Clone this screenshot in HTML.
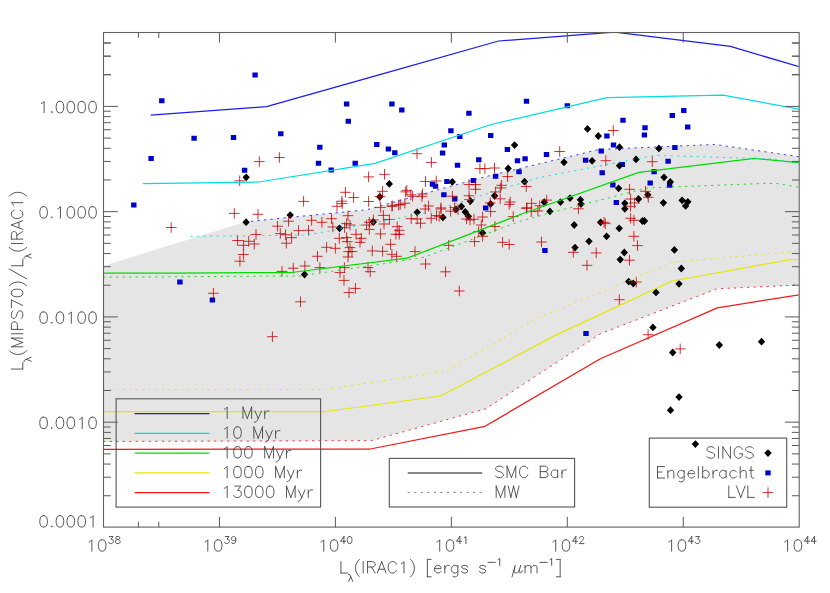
<!DOCTYPE html>
<html><head><meta charset="utf-8"><title>L(MIPS70)/L(IRAC1) vs L(IRAC1)</title>
<style>html,body{margin:0;padding:0;background:#fff;font-family:"Liberation Sans",sans-serif}svg{display:block}</style>
</head><body>
<svg width="830" height="593" viewBox="0 0 830 593">
<defs><clipPath id="fr"><rect x="104.00" y="33.10" width="694.70" height="493.40"/></clipPath></defs>
<rect width="830" height="593" fill="#fff"/>
<g clip-path="url(#fr)">
<polygon points="103.5,265.9 244.8,221.9 251.0,221.3 367.0,209.7 483.0,177.3 599.0,149.5 714.9,144.4 831.0,161.4 833.0,283.4 716.9,288.8 601.0,333.5 485.8,408.8 371.7,440.6 90.0,441.5" fill="#e5e5e5"/>
<path d="M252.4 72.6h5.4v5.0h-5.4zM159.1 98.2h5.4v5.0h-5.4zM191.4 135.8h5.4v5.0h-5.4zM230.8 135.0h5.4v5.0h-5.4zM278.1 131.2h5.4v5.0h-5.4zM148.4 156.1h5.4v5.0h-5.4zM241.9 167.8h5.4v5.0h-5.4zM343.9 101.6h5.4v5.0h-5.4zM345.6 118.7h5.4v5.0h-5.4zM389.2 101.6h5.4v5.0h-5.4zM399.1 107.4h5.4v5.0h-5.4zM466.2 110.7h5.4v5.0h-5.4zM317.1 144.7h5.4v5.0h-5.4zM315.8 160.8h5.4v5.0h-5.4zM328.5 167.4h5.4v5.0h-5.4zM352.5 160.8h5.4v5.0h-5.4zM374.1 142.1h5.4v5.0h-5.4zM385.7 146.5h5.4v5.0h-5.4zM392.1 150.2h5.4v5.0h-5.4zM448.2 128.2h5.4v5.0h-5.4zM457.1 134.1h5.4v5.0h-5.4zM441.6 142.6h5.4v5.0h-5.4zM439.9 150.6h5.4v5.0h-5.4zM488.0 133.0h5.4v5.0h-5.4zM476.1 157.3h5.4v5.0h-5.4zM454.8 162.7h5.4v5.0h-5.4zM523.8 98.7h5.4v5.0h-5.4zM564.6 103.3h5.4v5.0h-5.4zM620.3 117.7h5.4v5.0h-5.4zM642.3 125.2h5.4v5.0h-5.4zM641.7 132.6h5.4v5.0h-5.4zM669.6 113.1h5.4v5.0h-5.4zM681.1 108.1h5.4v5.0h-5.4zM685.0 124.5h5.4v5.0h-5.4zM604.2 133.6h5.4v5.0h-5.4zM610.8 142.6h5.4v5.0h-5.4zM598.5 148.5h5.4v5.0h-5.4zM504.7 147.0h5.4v5.0h-5.4zM514.8 158.3h5.4v5.0h-5.4zM522.4 156.2h5.4v5.0h-5.4zM543.8 151.9h5.4v5.0h-5.4zM516.3 169.2h5.4v5.0h-5.4zM582.9 157.7h5.4v5.0h-5.4zM619.6 162.0h5.4v5.0h-5.4zM672.2 145.1h5.4v5.0h-5.4zM665.4 158.8h5.4v5.0h-5.4zM599.5 170.2h5.4v5.0h-5.4zM651.4 169.3h5.4v5.0h-5.4zM429.8 181.7h5.4v5.0h-5.4zM432.8 183.8h5.4v5.0h-5.4zM444.2 179.1h5.4v5.0h-5.4zM441.2 192.2h5.4v5.0h-5.4zM492.9 173.8h5.4v5.0h-5.4zM470.7 178.1h5.4v5.0h-5.4zM452.1 196.5h5.4v5.0h-5.4zM483.0 205.5h5.4v5.0h-5.4zM647.5 180.4h5.4v5.0h-5.4zM610.2 182.4h5.4v5.0h-5.4zM613.6 200.1h5.4v5.0h-5.4zM666.9 182.8h5.4v5.0h-5.4zM542.2 248.0h5.4v5.0h-5.4zM131.1 202.6h5.4v5.0h-5.4zM177.2 279.5h5.4v5.0h-5.4zM209.7 297.6h5.4v5.0h-5.4zM583.3 330.9h5.4v5.0h-5.4z" fill="#0000cd"/>
<path d="M242.5 177.3L246.2 173.4L249.9 177.3L246.2 181.2zM242.4 222.2L246.1 218.3L249.8 222.2L246.1 226.1zM286.5 215.1L290.2 211.2L293.9 215.1L290.2 219.0zM300.9 274.5L304.6 270.6L308.3 274.5L304.6 278.4zM376.1 196.8L379.8 192.9L383.5 196.8L379.8 200.7zM385.6 183.9L389.3 180.0L393.0 183.9L389.3 187.8zM369.6 222.0L373.3 218.1L377.0 222.0L373.3 225.9zM335.9 228.3L339.6 224.4L343.3 228.3L339.6 232.2zM413.5 212.3L417.2 208.4L420.9 212.3L417.2 216.2zM439.2 217.4L442.9 213.5L446.6 217.4L442.9 221.3zM452.3 209.4L456.0 205.5L459.7 209.4L456.0 213.3zM457.7 206.4L461.4 202.5L465.1 206.4L461.4 210.3zM466.7 201.0L470.4 197.1L474.1 201.0L470.4 204.9zM461.6 212.0L465.3 208.1L469.0 212.0L465.3 215.9zM464.7 216.3L468.4 212.4L472.1 216.3L468.4 220.2zM490.9 195.8L494.6 191.9L498.3 195.8L494.6 199.7zM486.9 203.9L490.6 200.0L494.3 203.9L490.6 207.8zM478.9 233.0L482.6 229.1L486.3 233.0L482.6 236.9zM540.6 202.2L544.3 198.3L548.0 202.2L544.3 206.1zM546.2 211.4L549.9 207.5L553.6 211.4L549.9 215.3zM448.6 181.9L452.3 178.0L456.0 181.9L452.3 185.8zM504.5 168.5L508.2 164.6L511.9 168.5L508.2 172.4zM510.9 145.1L514.6 141.2L518.3 145.1L514.6 149.0zM520.8 181.7L524.5 177.8L528.2 181.7L524.5 185.6zM583.8 128.9L587.5 125.0L591.2 128.9L587.5 132.8zM594.6 136.0L598.3 132.1L602.0 136.0L598.3 139.9zM615.8 147.2L619.5 143.3L623.2 147.2L619.5 151.1zM655.2 148.4L658.9 144.5L662.6 148.4L658.9 152.3zM560.3 162.3L564.0 158.4L567.7 162.3L564.0 166.2zM588.4 160.8L592.1 156.9L595.8 160.8L592.1 164.7zM615.8 165.7L619.5 161.8L623.2 165.7L619.5 169.6zM632.3 159.4L636.0 155.5L639.7 159.4L636.0 163.3zM660.3 177.3L664.0 173.4L667.7 177.3L664.0 181.2zM666.6 181.9L670.3 178.0L674.0 181.9L670.3 185.8zM614.9 188.3L618.6 184.4L622.3 188.3L618.6 192.2zM556.8 202.1L560.5 198.2L564.2 202.1L560.5 206.0zM566.3 198.1L570.0 194.2L573.7 198.1L570.0 202.0zM576.7 199.8L580.4 195.9L584.1 199.8L580.4 203.7zM577.3 204.1L581.0 200.2L584.7 204.1L581.0 208.0zM621.1 203.3L624.8 199.4L628.5 203.3L624.8 207.2zM621.1 208.8L624.8 204.9L628.5 208.8L624.8 212.7zM634.8 199.0L638.5 195.1L642.2 199.0L638.5 202.9zM644.1 194.8L647.8 190.9L651.5 194.8L647.8 198.7zM659.7 202.8L663.4 198.9L667.1 202.8L663.4 206.7zM678.4 200.3L682.1 196.4L685.8 200.3L682.1 204.2zM684.1 201.8L687.8 197.9L691.5 201.8L687.8 205.7zM681.9 205.9L685.6 202.0L689.3 205.9L685.6 209.8zM570.5 225.0L574.2 221.1L577.9 225.0L574.2 228.9zM596.9 222.3L600.6 218.4L604.3 222.3L600.6 226.2zM602.9 236.3L606.6 232.4L610.3 236.3L606.6 240.2zM585.3 241.3L589.0 237.4L592.7 241.3L589.0 245.2zM571.3 247.6L575.0 243.7L578.7 247.6L575.0 251.5zM615.5 228.3L619.2 224.4L622.9 228.3L619.2 232.2zM638.8 221.0L642.5 217.1L646.2 221.0L642.5 224.9zM640.8 221.0L644.5 217.1L648.2 221.0L644.5 224.9zM620.6 252.5L624.3 248.6L628.0 252.5L624.3 256.4zM616.5 259.6L620.2 255.7L623.9 259.6L620.2 263.5zM670.7 249.9L674.4 246.0L678.1 249.9L674.4 253.8zM677.6 268.5L681.3 264.6L685.0 268.5L681.3 272.4zM625.0 281.6L628.7 277.7L632.4 281.6L628.7 285.5zM629.6 283.5L633.3 279.6L637.0 283.5L633.3 287.4zM652.3 292.4L656.0 288.5L659.7 292.4L656.0 296.3zM675.3 283.8L679.0 279.9L682.7 283.8L679.0 287.7zM649.2 327.4L652.9 323.5L656.6 327.4L652.9 331.3zM669.0 352.5L672.7 348.6L676.4 352.5L672.7 356.4zM715.6 345.0L719.3 341.1L723.0 345.0L719.3 348.9zM757.8 341.7L761.5 337.8L765.2 341.7L761.5 345.6zM675.3 397.1L679.0 393.2L682.7 397.1L679.0 401.0zM666.8 410.2L670.5 406.3L674.2 410.2L670.5 414.1zM691.7 444.1L695.4 440.2L699.1 444.1L695.4 448.0z" fill="#000"/>
<path d="M254.0 161.6h10.6M259.3 156.3v10.6M274.1 157.5h10.6M279.4 152.2v10.6M464.2 199.6h10.6M469.5 194.3v10.6M411.7 153.7h10.6M417.0 148.4v10.6M426.1 162.4h10.6M431.4 157.1v10.6M474.6 168.6h10.6M479.9 163.3v10.6M479.6 168.6h10.6M484.9 163.3v10.6M489.2 168.0h10.6M494.5 162.7v10.6M608.0 130.5h10.6M613.3 125.2v10.6M554.4 151.5h10.6M559.7 146.2v10.6M600.5 160.7h10.6M605.8 155.4v10.6M647.0 161.7h10.6M652.3 156.4v10.6M234.4 180.8h10.6M239.7 175.5v10.6M298.3 201.4h10.6M303.6 196.1v10.6M379.2 174.3h10.6M384.5 169.0v10.6M363.3 176.9h10.6M368.6 171.6v10.6M340.1 192.3h10.6M345.4 187.0v10.6M348.3 197.5h10.6M353.6 192.2v10.6M363.3 201.5h10.6M368.6 196.2v10.6M377.2 191.3h10.6M382.5 186.0v10.6M374.6 196.6h10.6M379.9 191.3v10.6M336.9 203.6h10.6M342.2 198.3v10.6M336.5 201.2h10.6M341.8 195.9v10.6M331.7 206.3h10.6M337.0 201.0v10.6M400.3 191.9h10.6M405.6 186.6v10.6M401.5 190.4h10.6M406.8 185.1v10.6M405.6 194.8h10.6M410.9 189.5v10.6M417.2 193.9h10.6M422.5 188.6v10.6M420.2 181.5h10.6M425.5 176.2v10.6M430.9 181.0h10.6M436.2 175.7v10.6M399.6 203.2h10.6M404.9 197.9v10.6M394.9 204.5h10.6M400.2 199.2v10.6M387.0 205.9h10.6M392.3 200.6v10.6M375.3 207.4h10.6M380.6 202.1v10.6M423.3 206.0h10.6M428.6 200.7v10.6M435.6 207.9h10.6M440.9 202.6v10.6M502.3 176.6h10.6M507.6 171.3v10.6M463.7 184.6h10.6M469.0 179.3v10.6M470.3 184.6h10.6M475.6 179.3v10.6M470.3 189.3h10.6M475.6 184.0v10.6M496.3 185.3h10.6M501.6 180.0v10.6M495.0 187.9h10.6M500.3 182.6v10.6M490.3 191.9h10.6M495.6 186.6v10.6M520.9 186.6h10.6M526.2 181.3v10.6M447.1 196.2h10.6M452.4 190.9v10.6M463.7 195.8h10.6M469.0 190.5v10.6M494.9 198.8h10.6M500.2 193.5v10.6M504.9 202.0h10.6M510.2 196.7v10.6M484.9 202.8h10.6M490.2 197.5v10.6M526.3 203.4h10.6M531.6 198.1v10.6M521.7 207.8h10.6M527.0 202.5v10.6M534.4 205.8h10.6M539.7 200.5v10.6M541.4 200.1h10.6M546.7 194.8v10.6M624.3 189.3h10.6M629.6 184.0v10.6M640.2 191.3h10.6M645.5 186.0v10.6M643.0 197.3h10.6M648.3 192.0v10.6M573.1 208.8h10.6M578.4 203.5v10.6M229.0 213.4h10.6M234.3 208.1v10.6M252.7 214.3h10.6M258.0 209.0v10.6M283.2 221.2h10.6M288.5 215.9v10.6M272.3 226.2h10.6M277.6 220.9v10.6M306.3 220.3h10.6M311.6 215.0v10.6M316.6 222.3h10.6M321.9 217.0v10.6M326.2 218.7h10.6M331.5 213.4v10.6M327.5 227.0h10.6M332.8 221.7v10.6M293.3 230.6h10.6M298.6 225.3v10.6M303.2 230.3h10.6M308.5 225.0v10.6M275.0 233.6h10.6M280.3 228.3v10.6M280.3 234.7h10.6M285.6 229.4v10.6M286.3 237.6h10.6M291.6 232.3v10.6M281.0 243.2h10.6M286.3 237.9v10.6M250.7 234.4h10.6M256.0 229.1v10.6M232.3 240.5h10.6M237.6 235.2v10.6M243.4 241.3h10.6M248.7 236.0v10.6M238.3 245.3h10.6M243.6 240.0v10.6M249.0 244.0h10.6M254.3 238.7v10.6M238.1 254.5h10.6M243.4 249.2v10.6M234.6 261.2h10.6M239.9 255.9v10.6M321.3 247.3h10.6M326.6 242.0v10.6M312.2 256.3h10.6M317.5 251.0v10.6M276.7 271.4h10.6M282.0 266.1v10.6M288.0 268.2h10.6M293.3 262.9v10.6M299.6 266.0h10.6M304.9 260.7v10.6M314.6 267.6h10.6M319.9 262.3v10.6M165.9 227.5h10.6M171.2 222.2v10.6M208.1 293.3h10.6M213.4 288.0v10.6M342.7 215.7h10.6M348.0 210.4v10.6M386.6 206.2h10.6M391.9 200.9v10.6M393.3 205.0h10.6M398.6 199.7v10.6M407.3 196.3h10.6M412.6 191.0v10.6M416.6 196.3h10.6M421.9 191.0v10.6M419.9 209.0h10.6M425.2 203.7v10.6M378.1 215.4h10.6M383.4 210.1v10.6M384.1 219.5h10.6M389.4 214.2v10.6M378.7 224.0h10.6M384.0 218.7v10.6M405.9 218.7h10.6M411.2 213.4v10.6M415.2 223.2h10.6M420.5 217.9v10.6M411.9 219.0h10.6M417.2 213.7v10.6M425.9 218.3h10.6M431.2 213.0v10.6M431.2 215.6h10.6M436.5 210.3v10.6M433.9 216.3h10.6M439.2 211.0v10.6M341.3 223.6h10.6M346.6 218.3v10.6M344.7 225.0h10.6M350.0 219.7v10.6M339.3 227.6h10.6M344.6 222.3v10.6M364.0 222.3h10.6M369.3 217.0v10.6M361.3 225.0h10.6M366.6 219.7v10.6M364.0 229.4h10.6M369.3 224.1v10.6M368.0 219.9h10.6M373.3 214.6v10.6M391.9 226.7h10.6M397.2 221.4v10.6M393.9 230.3h10.6M399.2 225.0v10.6M393.9 234.3h10.6M399.2 229.0v10.6M390.6 234.3h10.6M395.9 229.0v10.6M375.3 233.9h10.6M380.6 228.6v10.6M350.7 234.3h10.6M356.0 229.0v10.6M356.0 238.3h10.6M361.3 233.0v10.6M354.7 242.3h10.6M360.0 237.0v10.6M334.0 238.3h10.6M339.3 233.0v10.6M341.3 237.6h10.6M346.6 232.3v10.6M342.0 241.6h10.6M347.3 236.3v10.6M330.0 248.3h10.6M335.3 243.0v10.6M344.7 247.6h10.6M350.0 242.3v10.6M346.7 251.6h10.6M352.0 246.3v10.6M343.3 251.6h10.6M348.6 246.3v10.6M342.7 257.0h10.6M348.0 251.7v10.6M367.0 250.9h10.6M372.3 245.6v10.6M377.3 251.3h10.6M382.6 246.0v10.6M385.3 244.3h10.6M390.6 239.0v10.6M386.6 254.3h10.6M391.9 249.0v10.6M391.3 256.3h10.6M396.6 251.0v10.6M409.7 251.6h10.6M415.0 246.3v10.6M420.3 264.0h10.6M425.6 258.7v10.6M339.1 267.6h10.6M344.4 262.3v10.6M334.7 272.6h10.6M340.0 267.3v10.6M362.7 267.6h10.6M368.0 262.3v10.6M364.9 271.7h10.6M370.2 266.4v10.6M435.7 209.0h10.6M441.0 203.7v10.6M445.3 211.2h10.6M450.6 205.9v10.6M449.3 207.6h10.6M454.6 202.3v10.6M452.7 209.6h10.6M458.0 204.3v10.6M461.3 219.0h10.6M466.6 213.7v10.6M464.7 220.0h10.6M470.0 214.7v10.6M468.7 219.2h10.6M474.0 213.9v10.6M477.3 217.0h10.6M482.6 211.7v10.6M485.3 211.6h10.6M490.6 206.3v10.6M503.9 204.3h10.6M509.2 199.0v10.6M507.9 216.6h10.6M513.2 211.3v10.6M521.2 208.3h10.6M526.5 203.0v10.6M525.9 211.6h10.6M531.2 206.3v10.6M532.6 211.0h10.6M537.9 205.7v10.6M476.0 225.0h10.6M481.3 219.7v10.6M473.3 231.6h10.6M478.6 226.3v10.6M477.3 236.3h10.6M482.6 231.0v10.6M489.6 226.5h10.6M494.9 221.2v10.6M469.3 241.6h10.6M474.6 236.3v10.6M443.4 245.3h10.6M448.7 240.0v10.6M497.3 242.3h10.6M502.6 237.0v10.6M503.9 244.5h10.6M509.2 239.2v10.6M536.2 242.0h10.6M541.5 236.7v10.6M440.3 271.8h10.6M445.6 266.5v10.6M600.0 223.6h10.6M605.3 218.3v10.6M598.7 222.3h10.6M604.0 217.0v10.6M625.3 199.0h10.6M630.6 193.7v10.6M629.3 203.0h10.6M634.6 197.7v10.6M625.3 206.3h10.6M630.6 201.0v10.6M625.3 218.3h10.6M630.6 213.0v10.6M628.6 220.3h10.6M633.9 215.0v10.6M628.6 236.3h10.6M633.9 231.0v10.6M632.2 245.6h10.6M637.5 240.3v10.6M624.2 260.2h10.6M629.5 254.9v10.6M568.0 252.3h10.6M573.3 247.0v10.6M590.9 252.9h10.6M596.2 247.6v10.6M581.7 265.3h10.6M587.0 260.0v10.6M295.2 301.8h10.6M300.5 296.5v10.6M267.1 336.7h10.6M272.4 331.4v10.6M338.7 280.4h10.6M344.0 275.1v10.6M350.1 288.4h10.6M355.4 283.1v10.6M343.7 292.6h10.6M349.0 287.3v10.6M454.0 291.0h10.6M459.3 285.7v10.6M614.0 299.7h10.6M619.3 294.4v10.6M631.0 282.0h10.6M636.3 276.7v10.6M642.8 334.7h10.6M648.1 329.4v10.6M674.9 348.9h10.6M680.2 343.6v10.6" fill="none" stroke="#c40000" stroke-opacity="0.8" stroke-width="1"/>
<polyline points="150.7,115.2 266.5,106.7 382.5,73.9 498.5,41.0 614.7,32.1 730.5,46.4 846.5,80.8" fill="none" stroke="#1c1ce6" stroke-width="1.25" stroke-linejoin="round"/>
<polyline points="142.9,183.6 259.0,182.0 375.0,163.3 491.0,124.5 607.0,97.6 723.0,95.1 839.0,116.5" fill="none" stroke="#00dcdc" stroke-width="1.25" stroke-linejoin="round"/>
<polyline points="59.8,273.1 175.6,273.0 291.4,272.5 407.2,258.2 523.0,213.5 638.9,172.3 754.5,158.4 870.0,169.6" fill="none" stroke="#00dc00" stroke-width="1.25" stroke-linejoin="round"/>
<polyline points="90.0,411.6 325.9,411.5 440.8,396.0 555.8,335.1 672.0,281.0 788.0,260.0 810.0,258.6" fill="none" stroke="#e6e600" stroke-width="1.25" stroke-linejoin="round"/>
<polyline points="90.0,449.3 370.3,449.0 485.0,426.3 600.4,358.8 717.3,307.9 833.0,289.3" fill="none" stroke="#f01818" stroke-width="1.25" stroke-linejoin="round"/>
<polyline points="251.0,221.3 367.0,209.7 483.0,177.3 599.0,149.5 714.9,144.4 831.0,161.4" fill="none" stroke="#1c1ce6" stroke-width="0.85" stroke-dasharray="2.2 4.33" stroke-linecap="butt"/>
<polyline points="190.5,236.4 306.5,235.1 422.5,213.9 538.5,177.7 654.5,155.4 770.5,158.8 886.5,177.6" fill="none" stroke="#00dcdc" stroke-width="0.85" stroke-dasharray="2.2 4.33" stroke-linecap="butt"/>
<polyline points="90.0,277.2 300.0,276.0 385.0,263.6 424.0,257.2 520.0,221.4 560.0,210.2 615.9,196.2 645.0,188.2 665.0,187.2 765.0,183.4 778.0,183.6 799.2,187.3 810.0,189.0" fill="none" stroke="#00dc00" stroke-width="0.85" stroke-dasharray="2.2 4.33" stroke-linecap="butt"/>
<polyline points="90.0,389.6 326.0,389.4 444.4,371.5 490.0,345.8 536.5,318.3 623.4,283.3 648.5,272.2 673.3,262.2 770.0,253.6 810.0,250.4" fill="none" stroke="#e6e600" stroke-width="0.85" stroke-dasharray="2.2 4.33" stroke-linecap="butt"/>
<polyline points="90.0,441.5 371.7,440.6 485.8,408.8 601.0,333.5 716.9,288.8 833.0,283.4" fill="none" stroke="#f01818" stroke-width="0.85" stroke-dasharray="2.2 4.33" stroke-linecap="butt"/>
</g>
<rect x="103.50" y="32.50" width="695.70" height="494.60" fill="none" stroke="#606060" stroke-width="1.1"/>
<path d="M219.45 527.10v-10.2M219.45 32.50v10.2M335.40 527.10v-10.2M335.40 32.50v10.2M451.35 527.10v-10.2M451.35 32.50v10.2M567.30 527.10v-10.2M567.30 32.50v10.2M683.25 527.10v-10.2M683.25 32.50v10.2M138.40 527.10v-5.3M138.40 32.50v5.3M158.82 527.10v-5.3M158.82 32.50v5.3M103.50 106.40h14.3 M799.20 106.40h-14.3M103.50 74.71h7.3 M799.20 74.71h-7.3M103.50 56.18h7.3 M799.20 56.18h-7.3M103.50 43.03h7.3 M799.20 43.03h-7.3M103.50 211.66h14.3 M799.20 211.66h-14.3M103.50 179.97h7.3 M799.20 179.97h-7.3M103.50 161.44h7.3 M799.20 161.44h-7.3M103.50 148.29h7.3 M799.20 148.29h-7.3M103.50 138.09h7.3 M799.20 138.09h-7.3M103.50 129.75h7.3 M799.20 129.75h-7.3M103.50 122.70h7.3 M799.20 122.70h-7.3M103.50 116.60h7.3 M799.20 116.60h-7.3M103.50 111.22h7.3 M799.20 111.22h-7.3M103.50 316.92h14.3 M799.20 316.92h-14.3M103.50 285.23h7.3 M799.20 285.23h-7.3M103.50 266.70h7.3 M799.20 266.70h-7.3M103.50 253.55h7.3 M799.20 253.55h-7.3M103.50 243.35h7.3 M799.20 243.35h-7.3M103.50 235.01h7.3 M799.20 235.01h-7.3M103.50 227.96h7.3 M799.20 227.96h-7.3M103.50 221.86h7.3 M799.20 221.86h-7.3M103.50 216.48h7.3 M799.20 216.48h-7.3M103.50 422.18h14.3 M799.20 422.18h-14.3M103.50 390.49h7.3 M799.20 390.49h-7.3M103.50 371.96h7.3 M799.20 371.96h-7.3M103.50 358.81h7.3 M799.20 358.81h-7.3M103.50 348.61h7.3 M799.20 348.61h-7.3M103.50 340.27h7.3 M799.20 340.27h-7.3M103.50 333.22h7.3 M799.20 333.22h-7.3M103.50 327.12h7.3 M799.20 327.12h-7.3M103.50 321.74h7.3 M799.20 321.74h-7.3M103.50 495.75h7.3 M799.20 495.75h-7.3M103.50 477.22h7.3 M799.20 477.22h-7.3M103.50 464.07h7.3 M799.20 464.07h-7.3M103.50 453.87h7.3 M799.20 453.87h-7.3M103.50 445.53h7.3 M799.20 445.53h-7.3M103.50 438.48h7.3 M799.20 438.48h-7.3M103.50 432.38h7.3 M799.20 432.38h-7.3M103.50 427.00h7.3 M799.20 427.00h-7.3M103.50 74.71h7.3M799.20 74.71h-7.3M103.50 56.18h7.3M799.20 56.18h-7.3M103.50 43.03h7.3M799.20 43.03h-7.3" fill="none" stroke="#5a5a5a" stroke-width="1"/>
<path transform="translate(103.50 551.20)" d="M-14.36 -9.25 L-13.27 -9.79 L-11.64 -11.42 L-11.64 0.00M-1.85 -11.42 L-3.48 -10.88 L-4.57 -9.25 L-5.11 -6.53 L-5.11 -4.90 L-4.57 -2.18 L-3.48 -0.54 L-1.85 0.00 L-0.76 0.00 L0.87 -0.54 L1.96 -2.18 L2.50 -4.90 L2.50 -6.53 L1.96 -9.25 L0.87 -10.88 L-0.76 -11.42 L-1.85 -11.42M5.82 -14.68 L9.53 -14.68 L7.51 -11.98 L8.52 -11.98 L9.19 -11.65 L9.53 -11.31 L9.87 -10.30 L9.87 -9.62 L9.53 -8.61 L8.86 -7.94 L7.84 -7.60 L6.83 -7.60 L5.82 -7.94 L5.48 -8.27 L5.15 -8.95M13.58 -14.68 L12.57 -14.35 L12.23 -13.67 L12.23 -13.00 L12.57 -12.32 L13.24 -11.98 L14.59 -11.65 L15.60 -11.31 L16.28 -10.64 L16.61 -9.96 L16.61 -8.95 L16.28 -8.27 L15.94 -7.94 L14.93 -7.60 L13.58 -7.60 L12.57 -7.94 L12.23 -8.27 L11.89 -8.95 L11.89 -9.96 L12.23 -10.64 L12.90 -11.31 L13.92 -11.65 L15.26 -11.98 L15.94 -12.32 L16.28 -13.00 L16.28 -13.67 L15.94 -14.35 L14.93 -14.68 L13.58 -14.68" fill="none" stroke="#444" stroke-width="0.90" stroke-linecap="round" stroke-linejoin="round"/>
<path transform="translate(219.45 551.20)" d="M-14.36 -9.25 L-13.27 -9.79 L-11.64 -11.42 L-11.64 0.00M-1.85 -11.42 L-3.48 -10.88 L-4.57 -9.25 L-5.11 -6.53 L-5.11 -4.90 L-4.57 -2.18 L-3.48 -0.54 L-1.85 0.00 L-0.76 0.00 L0.87 -0.54 L1.96 -2.18 L2.50 -4.90 L2.50 -6.53 L1.96 -9.25 L0.87 -10.88 L-0.76 -11.42 L-1.85 -11.42M5.82 -14.68 L9.53 -14.68 L7.51 -11.98 L8.52 -11.98 L9.19 -11.65 L9.53 -11.31 L9.87 -10.30 L9.87 -9.62 L9.53 -8.61 L8.86 -7.94 L7.84 -7.60 L6.83 -7.60 L5.82 -7.94 L5.48 -8.27 L5.15 -8.95M16.28 -12.32 L15.94 -11.31 L15.26 -10.64 L14.25 -10.30 L13.92 -10.30 L12.90 -10.64 L12.23 -11.31 L11.89 -12.32 L11.89 -12.66 L12.23 -13.67 L12.90 -14.35 L13.92 -14.68 L14.25 -14.68 L15.26 -14.35 L15.94 -13.67 L16.28 -12.32 L16.28 -10.64 L15.94 -8.95 L15.26 -7.94 L14.25 -7.60 L13.58 -7.60 L12.57 -7.94 L12.23 -8.61" fill="none" stroke="#444" stroke-width="0.90" stroke-linecap="round" stroke-linejoin="round"/>
<path transform="translate(335.40 551.20)" d="M-14.36 -9.25 L-13.27 -9.79 L-11.64 -11.42 L-11.64 0.00M-1.85 -11.42 L-3.48 -10.88 L-4.57 -9.25 L-5.11 -6.53 L-5.11 -4.90 L-4.57 -2.18 L-3.48 -0.54 L-1.85 0.00 L-0.76 0.00 L0.87 -0.54 L1.96 -2.18 L2.50 -4.90 L2.50 -6.53 L1.96 -9.25 L0.87 -10.88 L-0.76 -11.42 L-1.85 -11.42M8.52 -14.68 L5.15 -9.96 L10.21 -9.96M8.52 -14.68 L8.52 -7.60M13.92 -14.68 L12.90 -14.35 L12.23 -13.33 L11.89 -11.65 L11.89 -10.64 L12.23 -8.95 L12.90 -7.94 L13.92 -7.60 L14.59 -7.60 L15.60 -7.94 L16.28 -8.95 L16.61 -10.64 L16.61 -11.65 L16.28 -13.33 L15.60 -14.35 L14.59 -14.68 L13.92 -14.68" fill="none" stroke="#444" stroke-width="0.90" stroke-linecap="round" stroke-linejoin="round"/>
<path transform="translate(451.35 551.20)" d="M-14.36 -9.25 L-13.27 -9.79 L-11.64 -11.42 L-11.64 0.00M-1.85 -11.42 L-3.48 -10.88 L-4.57 -9.25 L-5.11 -6.53 L-5.11 -4.90 L-4.57 -2.18 L-3.48 -0.54 L-1.85 0.00 L-0.76 0.00 L0.87 -0.54 L1.96 -2.18 L2.50 -4.90 L2.50 -6.53 L1.96 -9.25 L0.87 -10.88 L-0.76 -11.42 L-1.85 -11.42M8.52 -14.68 L5.15 -9.96 L10.21 -9.96M8.52 -14.68 L8.52 -7.60M12.90 -13.33 L13.58 -13.67 L14.59 -14.68 L14.59 -7.60" fill="none" stroke="#444" stroke-width="0.90" stroke-linecap="round" stroke-linejoin="round"/>
<path transform="translate(567.30 551.20)" d="M-14.36 -9.25 L-13.27 -9.79 L-11.64 -11.42 L-11.64 0.00M-1.85 -11.42 L-3.48 -10.88 L-4.57 -9.25 L-5.11 -6.53 L-5.11 -4.90 L-4.57 -2.18 L-3.48 -0.54 L-1.85 0.00 L-0.76 0.00 L0.87 -0.54 L1.96 -2.18 L2.50 -4.90 L2.50 -6.53 L1.96 -9.25 L0.87 -10.88 L-0.76 -11.42 L-1.85 -11.42M8.52 -14.68 L5.15 -9.96 L10.21 -9.96M8.52 -14.68 L8.52 -7.60M12.23 -13.00 L12.23 -13.33 L12.57 -14.01 L12.90 -14.35 L13.58 -14.68 L14.93 -14.68 L15.60 -14.35 L15.94 -14.01 L16.28 -13.33 L16.28 -12.66 L15.94 -11.98 L15.26 -10.97 L11.89 -7.60 L16.61 -7.60" fill="none" stroke="#444" stroke-width="0.90" stroke-linecap="round" stroke-linejoin="round"/>
<path transform="translate(683.25 551.20)" d="M-14.36 -9.25 L-13.27 -9.79 L-11.64 -11.42 L-11.64 0.00M-1.85 -11.42 L-3.48 -10.88 L-4.57 -9.25 L-5.11 -6.53 L-5.11 -4.90 L-4.57 -2.18 L-3.48 -0.54 L-1.85 0.00 L-0.76 0.00 L0.87 -0.54 L1.96 -2.18 L2.50 -4.90 L2.50 -6.53 L1.96 -9.25 L0.87 -10.88 L-0.76 -11.42 L-1.85 -11.42M8.52 -14.68 L5.15 -9.96 L10.21 -9.96M8.52 -14.68 L8.52 -7.60M12.57 -14.68 L16.28 -14.68 L14.25 -11.98 L15.26 -11.98 L15.94 -11.65 L16.28 -11.31 L16.61 -10.30 L16.61 -9.62 L16.28 -8.61 L15.60 -7.94 L14.59 -7.60 L13.58 -7.60 L12.57 -7.94 L12.23 -8.27 L11.89 -8.95" fill="none" stroke="#444" stroke-width="0.90" stroke-linecap="round" stroke-linejoin="round"/>
<path transform="translate(799.20 551.20)" d="M-14.36 -9.25 L-13.27 -9.79 L-11.64 -11.42 L-11.64 0.00M-1.85 -11.42 L-3.48 -10.88 L-4.57 -9.25 L-5.11 -6.53 L-5.11 -4.90 L-4.57 -2.18 L-3.48 -0.54 L-1.85 0.00 L-0.76 0.00 L0.87 -0.54 L1.96 -2.18 L2.50 -4.90 L2.50 -6.53 L1.96 -9.25 L0.87 -10.88 L-0.76 -11.42 L-1.85 -11.42M8.52 -14.68 L5.15 -9.96 L10.21 -9.96M8.52 -14.68 L8.52 -7.60M15.26 -14.68 L11.89 -9.96 L16.95 -9.96M15.26 -14.68 L15.26 -7.60" fill="none" stroke="#444" stroke-width="0.90" stroke-linecap="round" stroke-linejoin="round"/>
<path transform="translate(98.00 112.80)" d="M-56.58 -9.25 L-55.49 -9.79 L-53.86 -11.42 L-53.86 0.00M-46.24 -1.09 L-46.78 -0.54 L-46.24 0.00 L-45.70 -0.54 L-46.24 -1.09M-38.62 -11.42 L-40.26 -10.88 L-41.34 -9.25 L-41.89 -6.53 L-41.89 -4.90 L-41.34 -2.18 L-40.26 -0.54 L-38.62 0.00 L-37.54 0.00 L-35.90 -0.54 L-34.82 -2.18 L-34.27 -4.90 L-34.27 -6.53 L-34.82 -9.25 L-35.90 -10.88 L-37.54 -11.42 L-38.62 -11.42M-27.74 -11.42 L-29.38 -10.88 L-30.46 -9.25 L-31.01 -6.53 L-31.01 -4.90 L-30.46 -2.18 L-29.38 -0.54 L-27.74 0.00 L-26.66 0.00 L-25.02 -0.54 L-23.94 -2.18 L-23.39 -4.90 L-23.39 -6.53 L-23.94 -9.25 L-25.02 -10.88 L-26.66 -11.42 L-27.74 -11.42M-16.86 -11.42 L-18.50 -10.88 L-19.58 -9.25 L-20.13 -6.53 L-20.13 -4.90 L-19.58 -2.18 L-18.50 -0.54 L-16.86 0.00 L-15.78 0.00 L-14.14 -0.54 L-13.06 -2.18 L-12.51 -4.90 L-12.51 -6.53 L-13.06 -9.25 L-14.14 -10.88 L-15.78 -11.42 L-16.86 -11.42M-5.98 -11.42 L-7.62 -10.88 L-8.70 -9.25 L-9.25 -6.53 L-9.25 -4.90 L-8.70 -2.18 L-7.62 -0.54 L-5.98 0.00 L-4.90 0.00 L-3.26 -0.54 L-2.18 -2.18 L-1.63 -4.90 L-1.63 -6.53 L-2.18 -9.25 L-3.26 -10.88 L-4.90 -11.42 L-5.98 -11.42" fill="none" stroke="#444" stroke-width="0.90" stroke-linecap="round" stroke-linejoin="round"/>
<path transform="translate(98.00 218.06)" d="M-54.94 -11.42 L-56.58 -10.88 L-57.66 -9.25 L-58.21 -6.53 L-58.21 -4.90 L-57.66 -2.18 L-56.58 -0.54 L-54.94 0.00 L-53.86 0.00 L-52.22 -0.54 L-51.14 -2.18 L-50.59 -4.90 L-50.59 -6.53 L-51.14 -9.25 L-52.22 -10.88 L-53.86 -11.42 L-54.94 -11.42M-46.24 -1.09 L-46.78 -0.54 L-46.24 0.00 L-45.70 -0.54 L-46.24 -1.09M-40.26 -9.25 L-39.17 -9.79 L-37.54 -11.42 L-37.54 0.00M-27.74 -11.42 L-29.38 -10.88 L-30.46 -9.25 L-31.01 -6.53 L-31.01 -4.90 L-30.46 -2.18 L-29.38 -0.54 L-27.74 0.00 L-26.66 0.00 L-25.02 -0.54 L-23.94 -2.18 L-23.39 -4.90 L-23.39 -6.53 L-23.94 -9.25 L-25.02 -10.88 L-26.66 -11.42 L-27.74 -11.42M-16.86 -11.42 L-18.50 -10.88 L-19.58 -9.25 L-20.13 -6.53 L-20.13 -4.90 L-19.58 -2.18 L-18.50 -0.54 L-16.86 0.00 L-15.78 0.00 L-14.14 -0.54 L-13.06 -2.18 L-12.51 -4.90 L-12.51 -6.53 L-13.06 -9.25 L-14.14 -10.88 L-15.78 -11.42 L-16.86 -11.42M-5.98 -11.42 L-7.62 -10.88 L-8.70 -9.25 L-9.25 -6.53 L-9.25 -4.90 L-8.70 -2.18 L-7.62 -0.54 L-5.98 0.00 L-4.90 0.00 L-3.26 -0.54 L-2.18 -2.18 L-1.63 -4.90 L-1.63 -6.53 L-2.18 -9.25 L-3.26 -10.88 L-4.90 -11.42 L-5.98 -11.42" fill="none" stroke="#444" stroke-width="0.90" stroke-linecap="round" stroke-linejoin="round"/>
<path transform="translate(98.00 323.32)" d="M-54.94 -11.42 L-56.58 -10.88 L-57.66 -9.25 L-58.21 -6.53 L-58.21 -4.90 L-57.66 -2.18 L-56.58 -0.54 L-54.94 0.00 L-53.86 0.00 L-52.22 -0.54 L-51.14 -2.18 L-50.59 -4.90 L-50.59 -6.53 L-51.14 -9.25 L-52.22 -10.88 L-53.86 -11.42 L-54.94 -11.42M-46.24 -1.09 L-46.78 -0.54 L-46.24 0.00 L-45.70 -0.54 L-46.24 -1.09M-38.62 -11.42 L-40.26 -10.88 L-41.34 -9.25 L-41.89 -6.53 L-41.89 -4.90 L-41.34 -2.18 L-40.26 -0.54 L-38.62 0.00 L-37.54 0.00 L-35.90 -0.54 L-34.82 -2.18 L-34.27 -4.90 L-34.27 -6.53 L-34.82 -9.25 L-35.90 -10.88 L-37.54 -11.42 L-38.62 -11.42M-29.38 -9.25 L-28.29 -9.79 L-26.66 -11.42 L-26.66 0.00M-16.86 -11.42 L-18.50 -10.88 L-19.58 -9.25 L-20.13 -6.53 L-20.13 -4.90 L-19.58 -2.18 L-18.50 -0.54 L-16.86 0.00 L-15.78 0.00 L-14.14 -0.54 L-13.06 -2.18 L-12.51 -4.90 L-12.51 -6.53 L-13.06 -9.25 L-14.14 -10.88 L-15.78 -11.42 L-16.86 -11.42M-5.98 -11.42 L-7.62 -10.88 L-8.70 -9.25 L-9.25 -6.53 L-9.25 -4.90 L-8.70 -2.18 L-7.62 -0.54 L-5.98 0.00 L-4.90 0.00 L-3.26 -0.54 L-2.18 -2.18 L-1.63 -4.90 L-1.63 -6.53 L-2.18 -9.25 L-3.26 -10.88 L-4.90 -11.42 L-5.98 -11.42" fill="none" stroke="#444" stroke-width="0.90" stroke-linecap="round" stroke-linejoin="round"/>
<path transform="translate(98.00 428.58)" d="M-54.94 -11.42 L-56.58 -10.88 L-57.66 -9.25 L-58.21 -6.53 L-58.21 -4.90 L-57.66 -2.18 L-56.58 -0.54 L-54.94 0.00 L-53.86 0.00 L-52.22 -0.54 L-51.14 -2.18 L-50.59 -4.90 L-50.59 -6.53 L-51.14 -9.25 L-52.22 -10.88 L-53.86 -11.42 L-54.94 -11.42M-46.24 -1.09 L-46.78 -0.54 L-46.24 0.00 L-45.70 -0.54 L-46.24 -1.09M-38.62 -11.42 L-40.26 -10.88 L-41.34 -9.25 L-41.89 -6.53 L-41.89 -4.90 L-41.34 -2.18 L-40.26 -0.54 L-38.62 0.00 L-37.54 0.00 L-35.90 -0.54 L-34.82 -2.18 L-34.27 -4.90 L-34.27 -6.53 L-34.82 -9.25 L-35.90 -10.88 L-37.54 -11.42 L-38.62 -11.42M-27.74 -11.42 L-29.38 -10.88 L-30.46 -9.25 L-31.01 -6.53 L-31.01 -4.90 L-30.46 -2.18 L-29.38 -0.54 L-27.74 0.00 L-26.66 0.00 L-25.02 -0.54 L-23.94 -2.18 L-23.39 -4.90 L-23.39 -6.53 L-23.94 -9.25 L-25.02 -10.88 L-26.66 -11.42 L-27.74 -11.42M-18.50 -9.25 L-17.41 -9.79 L-15.78 -11.42 L-15.78 0.00M-5.98 -11.42 L-7.62 -10.88 L-8.70 -9.25 L-9.25 -6.53 L-9.25 -4.90 L-8.70 -2.18 L-7.62 -0.54 L-5.98 0.00 L-4.90 0.00 L-3.26 -0.54 L-2.18 -2.18 L-1.63 -4.90 L-1.63 -6.53 L-2.18 -9.25 L-3.26 -10.88 L-4.90 -11.42 L-5.98 -11.42" fill="none" stroke="#444" stroke-width="0.90" stroke-linecap="round" stroke-linejoin="round"/>
<path transform="translate(98.00 527.10)" d="M-54.94 -11.42 L-56.58 -10.88 L-57.66 -9.25 L-58.21 -6.53 L-58.21 -4.90 L-57.66 -2.18 L-56.58 -0.54 L-54.94 0.00 L-53.86 0.00 L-52.22 -0.54 L-51.14 -2.18 L-50.59 -4.90 L-50.59 -6.53 L-51.14 -9.25 L-52.22 -10.88 L-53.86 -11.42 L-54.94 -11.42M-46.24 -1.09 L-46.78 -0.54 L-46.24 0.00 L-45.70 -0.54 L-46.24 -1.09M-38.62 -11.42 L-40.26 -10.88 L-41.34 -9.25 L-41.89 -6.53 L-41.89 -4.90 L-41.34 -2.18 L-40.26 -0.54 L-38.62 0.00 L-37.54 0.00 L-35.90 -0.54 L-34.82 -2.18 L-34.27 -4.90 L-34.27 -6.53 L-34.82 -9.25 L-35.90 -10.88 L-37.54 -11.42 L-38.62 -11.42M-27.74 -11.42 L-29.38 -10.88 L-30.46 -9.25 L-31.01 -6.53 L-31.01 -4.90 L-30.46 -2.18 L-29.38 -0.54 L-27.74 0.00 L-26.66 0.00 L-25.02 -0.54 L-23.94 -2.18 L-23.39 -4.90 L-23.39 -6.53 L-23.94 -9.25 L-25.02 -10.88 L-26.66 -11.42 L-27.74 -11.42M-16.86 -11.42 L-18.50 -10.88 L-19.58 -9.25 L-20.13 -6.53 L-20.13 -4.90 L-19.58 -2.18 L-18.50 -0.54 L-16.86 0.00 L-15.78 0.00 L-14.14 -0.54 L-13.06 -2.18 L-12.51 -4.90 L-12.51 -6.53 L-13.06 -9.25 L-14.14 -10.88 L-15.78 -11.42 L-16.86 -11.42M-7.62 -9.25 L-6.53 -9.79 L-4.90 -11.42 L-4.90 0.00" fill="none" stroke="#444" stroke-width="0.90" stroke-linecap="round" stroke-linejoin="round"/>
<path transform="translate(450.55 573.00)" d="M-109.61 -11.42 L-109.61 0.00M-109.61 0.00 L-103.08 0.00M-102.20 1.32 L-101.52 1.32 L-100.85 1.65 L-100.51 1.99 L-97.81 8.40M-99.83 3.68 L-101.86 8.40M-91.15 -13.60 L-92.24 -12.51 L-93.33 -10.88 L-94.42 -8.70 L-94.96 -5.98 L-94.96 -3.81 L-94.42 -1.09 L-93.33 1.09 L-92.24 2.72 L-91.15 3.81M-87.34 -11.42 L-87.34 0.00M-82.99 -11.42 L-82.99 0.00M-82.99 -11.42 L-78.10 -11.42 L-76.46 -10.88 L-75.92 -10.34 L-75.38 -9.25 L-75.38 -8.16 L-75.92 -7.07 L-76.46 -6.53 L-78.10 -5.98 L-82.99 -5.98M-79.18 -5.98 L-75.38 0.00M-68.85 -11.42 L-73.20 0.00M-68.85 -11.42 L-64.50 0.00M-71.57 -3.81 L-66.13 -3.81M-54.16 -8.70 L-54.70 -9.79 L-55.79 -10.88 L-56.88 -11.42 L-59.06 -11.42 L-60.14 -10.88 L-61.23 -9.79 L-61.78 -8.70 L-62.32 -7.07 L-62.32 -4.35 L-61.78 -2.72 L-61.23 -1.63 L-60.14 -0.54 L-59.06 0.00 L-56.88 0.00 L-55.79 -0.54 L-54.70 -1.63 L-54.16 -2.72M-49.26 -9.25 L-48.18 -9.79 L-46.54 -11.42 L-46.54 0.00M-40.02 -13.60 L-38.93 -12.51 L-37.84 -10.88 L-36.75 -8.70 L-36.21 -5.98 L-36.21 -3.81 L-36.75 -1.09 L-37.84 1.09 L-38.93 2.72 L-40.02 3.81M-23.15 -13.60 L-23.15 3.81M-23.15 -13.60 L-19.34 -13.60M-23.15 3.81 L-19.34 3.81M-16.08 -4.35 L-9.55 -4.35 L-9.55 -5.44 L-10.10 -6.53 L-10.64 -7.07 L-11.73 -7.62 L-13.36 -7.62 L-14.45 -7.07 L-15.54 -5.98 L-16.08 -4.35 L-16.08 -3.26 L-15.54 -1.63 L-14.45 -0.54 L-13.36 0.00 L-11.73 0.00 L-10.64 -0.54 L-9.55 -1.63M-5.74 -7.62 L-5.74 0.00M-5.74 -4.35 L-5.20 -5.98 L-4.11 -7.07 L-3.02 -7.62 L-1.39 -7.62M7.31 -7.62 L7.31 1.09 L6.77 2.72 L6.22 3.26 L5.14 3.81 L3.50 3.81 L2.42 3.26M7.31 -5.98 L6.22 -7.07 L5.14 -7.62 L3.50 -7.62 L2.42 -7.07 L1.33 -5.98 L0.78 -4.35 L0.78 -3.26 L1.33 -1.63 L2.42 -0.54 L3.50 0.00 L5.14 0.00 L6.22 -0.54 L7.31 -1.63M17.10 -5.98 L16.56 -7.07 L14.93 -7.62 L13.30 -7.62 L11.66 -7.07 L11.12 -5.98 L11.66 -4.90 L12.75 -4.35 L15.47 -3.81 L16.56 -3.26 L17.10 -2.18 L17.10 -1.63 L16.56 -0.54 L14.93 0.00 L13.30 0.00 L11.66 -0.54 L11.12 -1.63M35.06 -5.98 L34.51 -7.07 L32.88 -7.62 L31.25 -7.62 L29.62 -7.07 L29.07 -5.98 L29.62 -4.90 L30.70 -4.35 L33.42 -3.81 L34.51 -3.26 L35.06 -2.18 L35.06 -1.63 L34.51 -0.54 L32.88 0.00 L31.25 0.00 L29.62 -0.54 L29.07 -1.63M37.36 -10.64 L44.78 -10.64M47.48 -13.33 L48.15 -13.67 L49.17 -14.68 L49.17 -7.60M64.71 -7.62 L61.45 3.81M64.17 -5.44 L63.63 -2.72 L63.63 -1.09 L64.71 0.00 L65.80 0.00 L66.89 -0.54 L67.98 -1.63 L69.07 -3.81M70.15 -7.62 L69.07 -3.81 L68.52 -1.63 L68.52 -0.54 L69.07 0.00 L70.15 0.00 L71.24 -1.09 L71.79 -2.18M74.51 -7.62 L74.51 0.00M74.51 -5.44 L76.14 -7.07 L77.23 -7.62 L78.86 -7.62 L79.95 -7.07 L80.49 -5.44 L80.49 0.00M80.49 -5.44 L82.12 -7.07 L83.21 -7.62 L84.84 -7.62 L85.93 -7.07 L86.47 -5.44 L86.47 0.00M89.32 -10.64 L96.74 -10.64M99.44 -13.33 L100.12 -13.67 L101.13 -14.68 L101.13 -7.60M109.61 -13.60 L109.61 3.81M105.80 -13.60 L109.61 -13.60M105.80 3.81 L109.61 3.81" fill="none" stroke="#444" stroke-width="0.90" stroke-linecap="round" stroke-linejoin="round"/>
<path transform="translate(22.80 280.70) rotate(-90)" d="M-88.36 -11.42 L-88.36 0.00M-88.36 0.00 L-81.83 0.00M-80.95 1.32 L-80.27 1.32 L-79.60 1.65 L-79.26 1.99 L-76.56 8.40M-78.59 3.68 L-80.61 8.40M-69.90 -13.60 L-70.99 -12.51 L-72.08 -10.88 L-73.17 -8.70 L-73.71 -5.98 L-73.71 -3.81 L-73.17 -1.09 L-72.08 1.09 L-70.99 2.72 L-69.90 3.81M-66.10 -11.42 L-66.10 0.00M-66.10 -11.42 L-61.74 0.00M-57.39 -11.42 L-61.74 0.00M-57.39 -11.42 L-57.39 0.00M-53.04 -11.42 L-53.04 0.00M-48.69 -11.42 L-48.69 0.00M-48.69 -11.42 L-43.79 -11.42 L-42.16 -10.88 L-41.62 -10.34 L-41.07 -9.25 L-41.07 -7.62 L-41.62 -6.53 L-42.16 -5.98 L-43.79 -5.44 L-48.69 -5.44M-30.19 -9.79 L-31.28 -10.88 L-32.91 -11.42 L-35.09 -11.42 L-36.72 -10.88 L-37.81 -9.79 L-37.81 -8.70 L-37.26 -7.62 L-36.72 -7.07 L-35.63 -6.53 L-32.37 -5.44 L-31.28 -4.90 L-30.74 -4.35 L-30.19 -3.26 L-30.19 -1.63 L-31.28 -0.54 L-32.91 0.00 L-35.09 0.00 L-36.72 -0.54 L-37.81 -1.63M-19.31 -11.42 L-24.75 0.00M-26.93 -11.42 L-19.31 -11.42M-12.78 -11.42 L-14.42 -10.88 L-15.50 -9.25 L-16.05 -6.53 L-16.05 -4.90 L-15.50 -2.18 L-14.42 -0.54 L-12.78 0.00 L-11.70 0.00 L-10.06 -0.54 L-8.98 -2.18 L-8.43 -4.90 L-8.43 -6.53 L-8.98 -9.25 L-10.06 -10.88 L-11.70 -11.42 L-12.78 -11.42M-5.17 -13.60 L-4.08 -12.51 L-2.99 -10.88 L-1.90 -8.70 L-1.36 -5.98 L-1.36 -3.81 L-1.90 -1.09 L-2.99 1.09 L-4.08 2.72 L-5.17 3.81M11.70 -13.60 L1.90 3.81M14.96 -11.42 L14.96 0.00M14.96 0.00 L21.49 0.00M22.37 1.32 L23.04 1.32 L23.72 1.65 L24.06 1.99 L26.75 8.40M24.73 3.68 L22.71 8.40M33.41 -13.60 L32.32 -12.51 L31.24 -10.88 L30.15 -8.70 L29.60 -5.98 L29.60 -3.81 L30.15 -1.09 L31.24 1.09 L32.32 2.72 L33.41 3.81M37.22 -11.42 L37.22 0.00M41.57 -11.42 L41.57 0.00M41.57 -11.42 L46.47 -11.42 L48.10 -10.88 L48.64 -10.34 L49.19 -9.25 L49.19 -8.16 L48.64 -7.07 L48.10 -6.53 L46.47 -5.98 L41.57 -5.98M45.38 -5.98 L49.19 0.00M55.72 -11.42 L51.36 0.00M55.72 -11.42 L60.07 0.00M53.00 -3.81 L58.44 -3.81M70.40 -8.70 L69.86 -9.79 L68.77 -10.88 L67.68 -11.42 L65.51 -11.42 L64.42 -10.88 L63.33 -9.79 L62.79 -8.70 L62.24 -7.07 L62.24 -4.35 L62.79 -2.72 L63.33 -1.63 L64.42 -0.54 L65.51 0.00 L67.68 0.00 L68.77 -0.54 L69.86 -1.63 L70.40 -2.72M75.30 -9.25 L76.39 -9.79 L78.02 -11.42 L78.02 0.00M84.55 -13.60 L85.64 -12.51 L86.72 -10.88 L87.81 -8.70 L88.36 -5.98 L88.36 -3.81 L87.81 -1.09 L86.72 1.09 L85.64 2.72 L84.55 3.81" fill="none" stroke="#444" stroke-width="0.90" stroke-linecap="round" stroke-linejoin="round"/>
<rect x="116.1" y="398.8" width="204.5" height="108.3" fill="none" stroke="#555" stroke-width="1.1"/>
<path d="M134.6 413.60H209.4" stroke="#1c1ce6" stroke-width="1.4"/>
<path transform="translate(221.20 418.50)" d="M3.26 -9.25 L4.35 -9.79 L5.98 -11.42 L5.98 0.00M21.76 -11.42 L21.76 0.00M21.76 -11.42 L26.11 0.00M30.46 -11.42 L26.11 0.00M30.46 -11.42 L30.46 0.00M33.73 -7.62 L36.99 0.00M40.26 -7.62 L36.99 0.00 L35.90 2.18 L34.82 3.26 L33.73 3.81 L33.18 3.81M43.52 -7.62 L43.52 0.00M43.52 -4.35 L44.06 -5.98 L45.15 -7.07 L46.24 -7.62 L47.87 -7.62" fill="none" stroke="#444" stroke-width="0.90" stroke-linecap="round" stroke-linejoin="round"/>
<path d="M134.6 433.35H209.4" stroke="#00dcdc" stroke-width="1.4"/>
<path transform="translate(221.20 438.25)" d="M3.26 -9.25 L4.35 -9.79 L5.98 -11.42 L5.98 0.00M15.78 -11.42 L14.14 -10.88 L13.06 -9.25 L12.51 -6.53 L12.51 -4.90 L13.06 -2.18 L14.14 -0.54 L15.78 0.00 L16.86 0.00 L18.50 -0.54 L19.58 -2.18 L20.13 -4.90 L20.13 -6.53 L19.58 -9.25 L18.50 -10.88 L16.86 -11.42 L15.78 -11.42M32.64 -11.42 L32.64 0.00M32.64 -11.42 L36.99 0.00M41.34 -11.42 L36.99 0.00M41.34 -11.42 L41.34 0.00M44.61 -7.62 L47.87 0.00M51.14 -7.62 L47.87 0.00 L46.78 2.18 L45.70 3.26 L44.61 3.81 L44.06 3.81M54.40 -7.62 L54.40 0.00M54.40 -4.35 L54.94 -5.98 L56.03 -7.07 L57.12 -7.62 L58.75 -7.62" fill="none" stroke="#444" stroke-width="0.90" stroke-linecap="round" stroke-linejoin="round"/>
<path d="M134.6 453.10H209.4" stroke="#00dc00" stroke-width="1.4"/>
<path transform="translate(221.20 458.00)" d="M3.26 -9.25 L4.35 -9.79 L5.98 -11.42 L5.98 0.00M15.78 -11.42 L14.14 -10.88 L13.06 -9.25 L12.51 -6.53 L12.51 -4.90 L13.06 -2.18 L14.14 -0.54 L15.78 0.00 L16.86 0.00 L18.50 -0.54 L19.58 -2.18 L20.13 -4.90 L20.13 -6.53 L19.58 -9.25 L18.50 -10.88 L16.86 -11.42 L15.78 -11.42M26.66 -11.42 L25.02 -10.88 L23.94 -9.25 L23.39 -6.53 L23.39 -4.90 L23.94 -2.18 L25.02 -0.54 L26.66 0.00 L27.74 0.00 L29.38 -0.54 L30.46 -2.18 L31.01 -4.90 L31.01 -6.53 L30.46 -9.25 L29.38 -10.88 L27.74 -11.42 L26.66 -11.42M43.52 -11.42 L43.52 0.00M43.52 -11.42 L47.87 0.00M52.22 -11.42 L47.87 0.00M52.22 -11.42 L52.22 0.00M55.49 -7.62 L58.75 0.00M62.02 -7.62 L58.75 0.00 L57.66 2.18 L56.58 3.26 L55.49 3.81 L54.94 3.81M65.28 -7.62 L65.28 0.00M65.28 -4.35 L65.82 -5.98 L66.91 -7.07 L68.00 -7.62 L69.63 -7.62" fill="none" stroke="#444" stroke-width="0.90" stroke-linecap="round" stroke-linejoin="round"/>
<path d="M134.6 472.85H209.4" stroke="#e6e600" stroke-width="1.4"/>
<path transform="translate(221.20 477.75)" d="M3.26 -9.25 L4.35 -9.79 L5.98 -11.42 L5.98 0.00M15.78 -11.42 L14.14 -10.88 L13.06 -9.25 L12.51 -6.53 L12.51 -4.90 L13.06 -2.18 L14.14 -0.54 L15.78 0.00 L16.86 0.00 L18.50 -0.54 L19.58 -2.18 L20.13 -4.90 L20.13 -6.53 L19.58 -9.25 L18.50 -10.88 L16.86 -11.42 L15.78 -11.42M26.66 -11.42 L25.02 -10.88 L23.94 -9.25 L23.39 -6.53 L23.39 -4.90 L23.94 -2.18 L25.02 -0.54 L26.66 0.00 L27.74 0.00 L29.38 -0.54 L30.46 -2.18 L31.01 -4.90 L31.01 -6.53 L30.46 -9.25 L29.38 -10.88 L27.74 -11.42 L26.66 -11.42M37.54 -11.42 L35.90 -10.88 L34.82 -9.25 L34.27 -6.53 L34.27 -4.90 L34.82 -2.18 L35.90 -0.54 L37.54 0.00 L38.62 0.00 L40.26 -0.54 L41.34 -2.18 L41.89 -4.90 L41.89 -6.53 L41.34 -9.25 L40.26 -10.88 L38.62 -11.42 L37.54 -11.42M54.40 -11.42 L54.40 0.00M54.40 -11.42 L58.75 0.00M63.10 -11.42 L58.75 0.00M63.10 -11.42 L63.10 0.00M66.37 -7.62 L69.63 0.00M72.90 -7.62 L69.63 0.00 L68.54 2.18 L67.46 3.26 L66.37 3.81 L65.82 3.81M76.16 -7.62 L76.16 0.00M76.16 -4.35 L76.70 -5.98 L77.79 -7.07 L78.88 -7.62 L80.51 -7.62" fill="none" stroke="#444" stroke-width="0.90" stroke-linecap="round" stroke-linejoin="round"/>
<path d="M134.6 492.60H209.4" stroke="#f01818" stroke-width="1.4"/>
<path transform="translate(221.20 497.50)" d="M3.26 -9.25 L4.35 -9.79 L5.98 -11.42 L5.98 0.00M13.60 -11.42 L19.58 -11.42 L16.32 -7.07 L17.95 -7.07 L19.04 -6.53 L19.58 -5.98 L20.13 -4.35 L20.13 -3.26 L19.58 -1.63 L18.50 -0.54 L16.86 0.00 L15.23 0.00 L13.60 -0.54 L13.06 -1.09 L12.51 -2.18M26.66 -11.42 L25.02 -10.88 L23.94 -9.25 L23.39 -6.53 L23.39 -4.90 L23.94 -2.18 L25.02 -0.54 L26.66 0.00 L27.74 0.00 L29.38 -0.54 L30.46 -2.18 L31.01 -4.90 L31.01 -6.53 L30.46 -9.25 L29.38 -10.88 L27.74 -11.42 L26.66 -11.42M37.54 -11.42 L35.90 -10.88 L34.82 -9.25 L34.27 -6.53 L34.27 -4.90 L34.82 -2.18 L35.90 -0.54 L37.54 0.00 L38.62 0.00 L40.26 -0.54 L41.34 -2.18 L41.89 -4.90 L41.89 -6.53 L41.34 -9.25 L40.26 -10.88 L38.62 -11.42 L37.54 -11.42M48.42 -11.42 L46.78 -10.88 L45.70 -9.25 L45.15 -6.53 L45.15 -4.90 L45.70 -2.18 L46.78 -0.54 L48.42 0.00 L49.50 0.00 L51.14 -0.54 L52.22 -2.18 L52.77 -4.90 L52.77 -6.53 L52.22 -9.25 L51.14 -10.88 L49.50 -11.42 L48.42 -11.42M65.28 -11.42 L65.28 0.00M65.28 -11.42 L69.63 0.00M73.98 -11.42 L69.63 0.00M73.98 -11.42 L73.98 0.00M77.25 -7.62 L80.51 0.00M83.78 -7.62 L80.51 0.00 L79.42 2.18 L78.34 3.26 L77.25 3.81 L76.70 3.81M87.04 -7.62 L87.04 0.00M87.04 -4.35 L87.58 -5.98 L88.67 -7.07 L89.76 -7.62 L91.39 -7.62" fill="none" stroke="#444" stroke-width="0.90" stroke-linecap="round" stroke-linejoin="round"/>
<rect x="389.3" y="458.4" width="185.3" height="48.6" fill="none" stroke="#555" stroke-width="1.1"/>
<path d="M407.7 472.9H482.2" stroke="#606060" stroke-width="1.5"/>
<path d="M407.7 492.4H482.2" stroke="#707070" stroke-width="0.85" stroke-dasharray="2.2 4.33"/>
<path transform="translate(494.00 477.60)" d="M9.25 -9.79 L8.16 -10.88 L6.53 -11.42 L4.35 -11.42 L2.72 -10.88 L1.63 -9.79 L1.63 -8.70 L2.18 -7.62 L2.72 -7.07 L3.81 -6.53 L7.07 -5.44 L8.16 -4.90 L8.70 -4.35 L9.25 -3.26 L9.25 -1.63 L8.16 -0.54 L6.53 0.00 L4.35 0.00 L2.72 -0.54 L1.63 -1.63M13.06 -11.42 L13.06 0.00M13.06 -11.42 L17.41 0.00M21.76 -11.42 L17.41 0.00M21.76 -11.42 L21.76 0.00M33.73 -8.70 L33.18 -9.79 L32.10 -10.88 L31.01 -11.42 L28.83 -11.42 L27.74 -10.88 L26.66 -9.79 L26.11 -8.70 L25.57 -7.07 L25.57 -4.35 L26.11 -2.72 L26.66 -1.63 L27.74 -0.54 L28.83 0.00 L31.01 0.00 L32.10 -0.54 L33.18 -1.63 L33.73 -2.72M46.24 -11.42 L46.24 0.00M46.24 -11.42 L51.14 -11.42 L52.77 -10.88 L53.31 -10.34 L53.86 -9.25 L53.86 -8.16 L53.31 -7.07 L52.77 -6.53 L51.14 -5.98M46.24 -5.98 L51.14 -5.98 L52.77 -5.44 L53.31 -4.90 L53.86 -3.81 L53.86 -2.18 L53.31 -1.09 L52.77 -0.54 L51.14 0.00 L46.24 0.00M63.65 -7.62 L63.65 0.00M63.65 -5.98 L62.56 -7.07 L61.47 -7.62 L59.84 -7.62 L58.75 -7.07 L57.66 -5.98 L57.12 -4.35 L57.12 -3.26 L57.66 -1.63 L58.75 -0.54 L59.84 0.00 L61.47 0.00 L62.56 -0.54 L63.65 -1.63M68.00 -7.62 L68.00 0.00M68.00 -4.35 L68.54 -5.98 L69.63 -7.07 L70.72 -7.62 L72.35 -7.62" fill="none" stroke="#444" stroke-width="0.90" stroke-linecap="round" stroke-linejoin="round"/>
<path transform="translate(494.00 497.40)" d="M2.18 -11.42 L2.18 0.00M2.18 -11.42 L6.53 0.00M10.88 -11.42 L6.53 0.00M10.88 -11.42 L10.88 0.00M14.14 -11.42 L16.86 0.00M19.58 -11.42 L16.86 0.00M19.58 -11.42 L22.30 0.00M25.02 -11.42 L22.30 0.00" fill="none" stroke="#444" stroke-width="0.90" stroke-linecap="round" stroke-linejoin="round"/>
<rect x="649.3" y="438.1" width="137.4" height="69.1" fill="none" stroke="#555" stroke-width="1.1"/>
<path transform="translate(754.90 458.20)" d="M-40.26 -9.79 L-41.34 -10.88 L-42.98 -11.42 L-45.15 -11.42 L-46.78 -10.88 L-47.87 -9.79 L-47.87 -8.70 L-47.33 -7.62 L-46.78 -7.07 L-45.70 -6.53 L-42.43 -5.44 L-41.34 -4.90 L-40.80 -4.35 L-40.26 -3.26 L-40.26 -1.63 L-41.34 -0.54 L-42.98 0.00 L-45.15 0.00 L-46.78 -0.54 L-47.87 -1.63M-36.45 -11.42 L-36.45 0.00M-32.10 -11.42 L-32.10 0.00M-32.10 -11.42 L-24.48 0.00M-24.48 -11.42 L-24.48 0.00M-12.51 -8.70 L-13.06 -9.79 L-14.14 -10.88 L-15.23 -11.42 L-17.41 -11.42 L-18.50 -10.88 L-19.58 -9.79 L-20.13 -8.70 L-20.67 -7.07 L-20.67 -4.35 L-20.13 -2.72 L-19.58 -1.63 L-18.50 -0.54 L-17.41 0.00 L-15.23 0.00 L-14.14 -0.54 L-13.06 -1.63 L-12.51 -2.72 L-12.51 -4.35M-15.23 -4.35 L-12.51 -4.35M-1.63 -9.79 L-2.72 -10.88 L-4.35 -11.42 L-6.53 -11.42 L-8.16 -10.88 L-9.25 -9.79 L-9.25 -8.70 L-8.70 -7.62 L-8.16 -7.07 L-7.07 -6.53 L-3.81 -5.44 L-2.72 -4.90 L-2.18 -4.35 L-1.63 -3.26 L-1.63 -1.63 L-2.72 -0.54 L-4.35 0.00 L-6.53 0.00 L-8.16 -0.54 L-9.25 -1.63" fill="none" stroke="#444" stroke-width="0.90" stroke-linecap="round" stroke-linejoin="round"/>
<path transform="translate(754.90 478.00)" d="M-97.38 -11.42 L-97.38 0.00M-97.38 -11.42 L-90.30 -11.42M-97.38 -5.98 L-93.02 -5.98M-97.38 0.00 L-90.30 0.00M-87.04 -7.62 L-87.04 0.00M-87.04 -5.44 L-85.41 -7.07 L-84.32 -7.62 L-82.69 -7.62 L-81.60 -7.07 L-81.06 -5.44 L-81.06 0.00M-70.72 -7.62 L-70.72 1.09 L-71.26 2.72 L-71.81 3.26 L-72.90 3.81 L-74.53 3.81 L-75.62 3.26M-70.72 -5.98 L-71.81 -7.07 L-72.90 -7.62 L-74.53 -7.62 L-75.62 -7.07 L-76.70 -5.98 L-77.25 -4.35 L-77.25 -3.26 L-76.70 -1.63 L-75.62 -0.54 L-74.53 0.00 L-72.90 0.00 L-71.81 -0.54 L-70.72 -1.63M-66.91 -4.35 L-60.38 -4.35 L-60.38 -5.44 L-60.93 -6.53 L-61.47 -7.07 L-62.56 -7.62 L-64.19 -7.62 L-65.28 -7.07 L-66.37 -5.98 L-66.91 -4.35 L-66.91 -3.26 L-66.37 -1.63 L-65.28 -0.54 L-64.19 0.00 L-62.56 0.00 L-61.47 -0.54 L-60.38 -1.63M-56.58 -11.42 L-56.58 0.00M-52.22 -11.42 L-52.22 0.00M-52.22 -5.98 L-51.14 -7.07 L-50.05 -7.62 L-48.42 -7.62 L-47.33 -7.07 L-46.24 -5.98 L-45.70 -4.35 L-45.70 -3.26 L-46.24 -1.63 L-47.33 -0.54 L-48.42 0.00 L-50.05 0.00 L-51.14 -0.54 L-52.22 -1.63M-41.89 -7.62 L-41.89 0.00M-41.89 -4.35 L-41.34 -5.98 L-40.26 -7.07 L-39.17 -7.62 L-37.54 -7.62M-28.83 -7.62 L-28.83 0.00M-28.83 -5.98 L-29.92 -7.07 L-31.01 -7.62 L-32.64 -7.62 L-33.73 -7.07 L-34.82 -5.98 L-35.36 -4.35 L-35.36 -3.26 L-34.82 -1.63 L-33.73 -0.54 L-32.64 0.00 L-31.01 0.00 L-29.92 -0.54 L-28.83 -1.63M-18.50 -5.98 L-19.58 -7.07 L-20.67 -7.62 L-22.30 -7.62 L-23.39 -7.07 L-24.48 -5.98 L-25.02 -4.35 L-25.02 -3.26 L-24.48 -1.63 L-23.39 -0.54 L-22.30 0.00 L-20.67 0.00 L-19.58 -0.54 L-18.50 -1.63M-14.69 -11.42 L-14.69 0.00M-14.69 -5.44 L-13.06 -7.07 L-11.97 -7.62 L-10.34 -7.62 L-9.25 -7.07 L-8.70 -5.44 L-8.70 0.00M-3.81 -11.42 L-3.81 -2.18 L-3.26 -0.54 L-2.18 0.00 L-1.09 0.00M-5.44 -7.62 L-1.63 -7.62" fill="none" stroke="#444" stroke-width="0.90" stroke-linecap="round" stroke-linejoin="round"/>
<path transform="translate(754.90 497.40)" d="M-26.11 -11.42 L-26.11 0.00M-26.11 0.00 L-19.58 0.00M-18.50 -11.42 L-14.14 0.00M-9.79 -11.42 L-14.14 0.00M-7.07 -11.42 L-7.07 0.00M-7.07 0.00 L-0.54 0.00" fill="none" stroke="#444" stroke-width="0.90" stroke-linecap="round" stroke-linejoin="round"/>
<path d="M764.3 453.1L768.0 449.2L771.7 453.1L768.0 457.0z" fill="#000"/>
<path d="M765.3 470.4h5.4v5.0h-5.4z" fill="#0000cd"/>
<path d="M762.7 492.6h10.6M768.0 487.3v10.6" fill="none" stroke="#c40000" stroke-opacity="0.8" stroke-width="1"/>
</svg>
</body></html>
